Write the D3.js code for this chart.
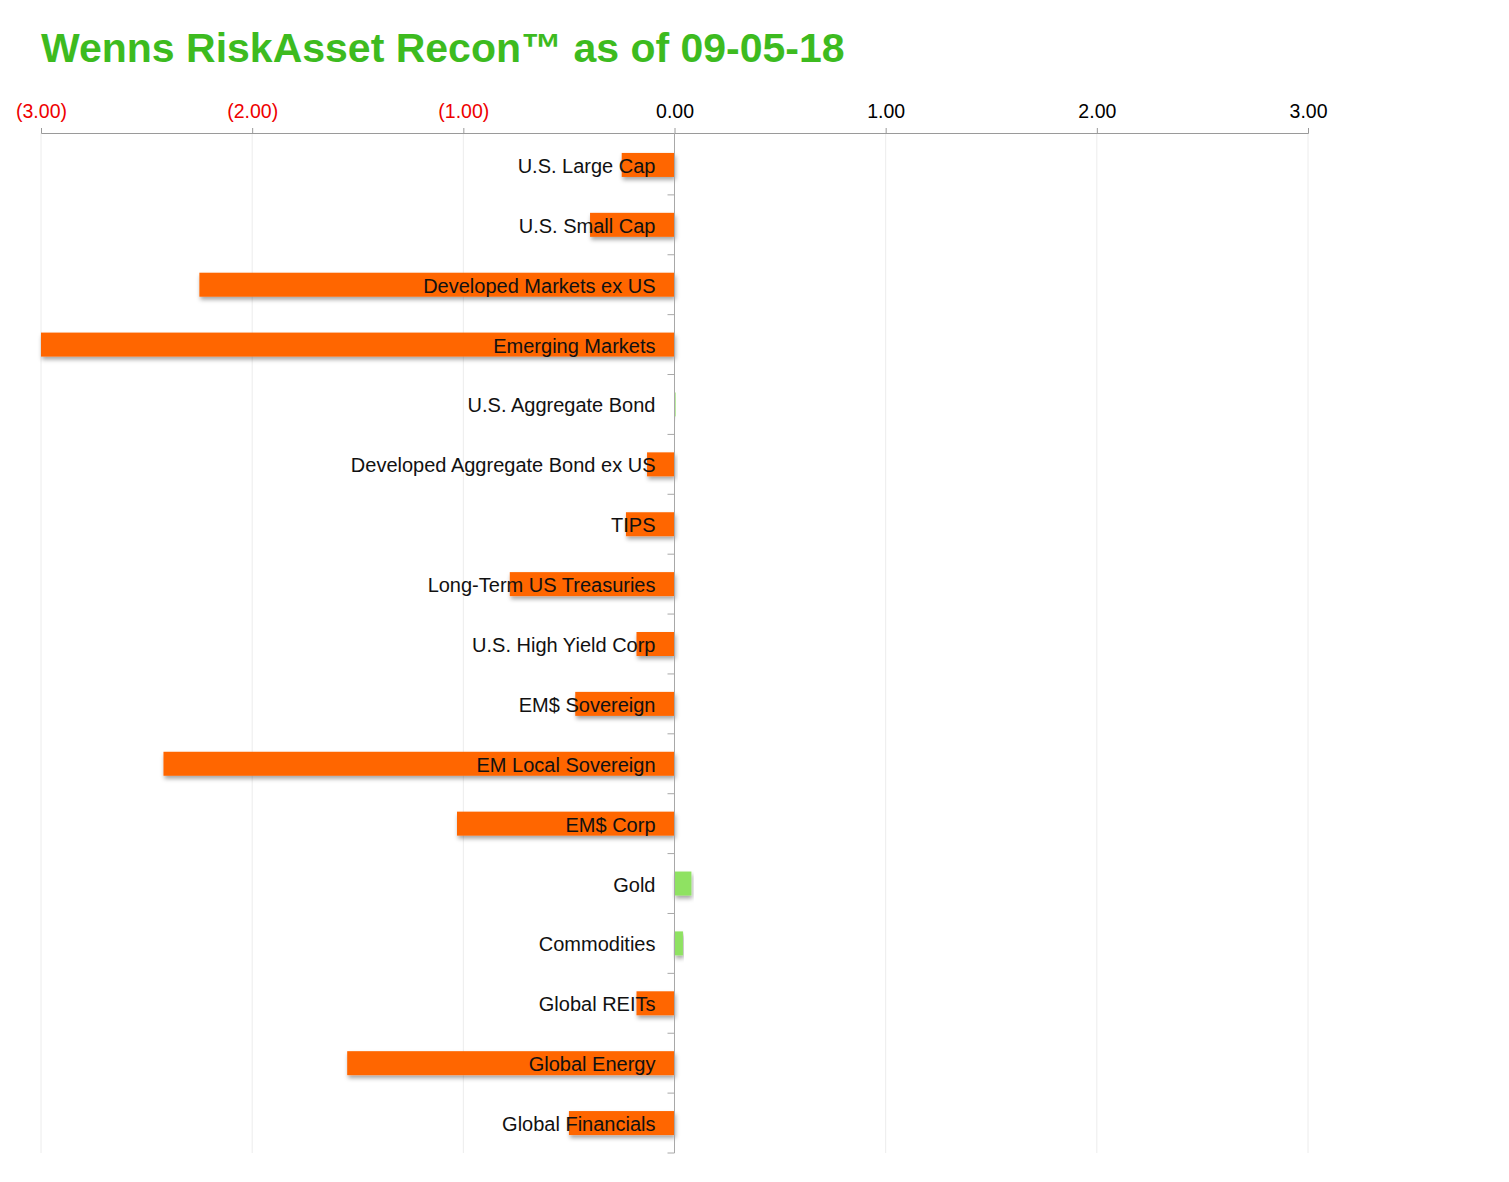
<!DOCTYPE html>
<html>
<head>
<meta charset="utf-8">
<script src="https://cdn.jsdelivr.net/npm/d3@7"></script>
<style>
  body { margin: 0; background: #fff; }
  text { font-family: "Liberation Sans", Helvetica, Arial, sans-serif; }
</style>
</head>
<body>
<svg width="1509" height="1182"></svg>
<script>
const categories = ['U.S. Large Cap', 'U.S. Small Cap', 'Developed Markets ex US', 'Emerging Markets',
    'U.S. Aggregate Bond', 'Developed Aggregate Bond ex US', 'TIPS', 'Long-Term US Treasuries',
    'U.S. High Yield Corp', 'EM$ Sovereign', 'EM Local Sovereign', 'EM$ Corp', 'Gold',
    'Commodities', 'Global REITs', 'Global Energy', 'Global Financials'];
const values = [-0.25, -0.40, -2.25, -3.00, 0.005, -0.13, -0.23, -0.78, -0.18, -0.47,
    -2.42, -1.03, 0.08, 0.04, -0.18, -1.55, -0.50];
const tickValues = [-3, -2, -1, 0, 1, 2, 3];
const title = 'Wenns RiskAsset Recon\u2122 as of 09-05-18';

const svg = d3.select('svg');
const margin = {top: 133, left: 41, right: 201, bottom: 29};
const width = +svg.attr('width');
const height = +svg.attr('height');

const x = d3.scaleLinear().domain([-3, 3]).range([margin.left, width - margin.right]);
const y = d3.scaleBand().domain(categories).range([margin.top + 2, height - margin.bottom]).paddingInner(0);

const defs = svg.append('defs');
defs.append('filter').attr('id', 'shadow')
    .attr('x', '-10%').attr('y', '-30%').attr('width', '120%').attr('height', '180%')
    .append('feDropShadow')
    .attr('dx', 1).attr('dy', 3).attr('stdDeviation', 2)
    .attr('flood-color', '#000').attr('flood-opacity', 0.35);

svg.append('text')
    .attr('x', 41).attr('y', 62)
    .attr('fill', '#3dbb1f')
    .attr('font-size', 41)
    .attr('font-weight', 'bold')
    .text(title);

// grid
svg.append('g').selectAll('line')
    .data(tickValues.filter(d => d !== 0))
    .join('line')
    .attr('x1', d => x(d)).attr('x2', d => x(d))
    .attr('y1', margin.top).attr('y2', height - margin.bottom)
    .attr('stroke', '#ececec');

// top axis
const fmt = d => d < 0 ? '(' + d3.format('.2f')(-d) + ')' : d3.format('.2f')(d);
const axis = svg.append('g')
    .attr('transform', `translate(0,${margin.top})`)
    .call(d3.axisTop(x).tickValues(tickValues).tickFormat(fmt).tickSizeOuter(0).tickSize(5).tickPadding(10));
axis.select('.domain').attr('stroke', '#9a9a9a');
axis.selectAll('.tick line').attr('stroke', '#9a9a9a');
axis.selectAll('.tick text')
    .attr('font-family', '"Liberation Sans", Helvetica, Arial, sans-serif')
    .attr('font-size', 19.5)
    .attr('fill', d => d < 0 ? '#ee0000' : '#000');

// bars
svg.append('g').selectAll('rect')
    .data(categories)
    .join('rect')
    .attr('x', (d, i) => x(Math.min(0, values[i])))
    .attr('width', (d, i) => Math.abs(x(values[i]) - x(0)))
    .attr('y', d => y(d) + (y.bandwidth() - 24) / 2)
    .attr('height', 24)
    .attr('fill', (d, i) => values[i] < 0 ? '#ff6600' : '#8fe262')
    .attr('filter', 'url(#shadow)');

// zero axis
svg.append('line')
    .attr('x1', x(0)).attr('x2', x(0))
    .attr('y1', margin.top).attr('y2', height - margin.bottom)
    .attr('stroke', '#a8a8a8');

// category boundary ticks
svg.append('g').selectAll('line')
    .data(categories)
    .join('line')
    .attr('x1', x(0) - 7).attr('x2', x(0))
    .attr('y1', d => y(d) + y.step())
    .attr('y2', d => y(d) + y.step())
    .attr('stroke', '#a8a8a8');

// labels
svg.append('g').selectAll('text')
    .data(categories)
    .join('text')
    .attr('x', x(0) - 19)
    .attr('y', d => y(d) + y.bandwidth() / 2 + 8)
    .attr('text-anchor', 'end')
    .attr('font-size', 20)
    .attr('fill', '#111')
    .text(d => d);
</script>
</body>
</html>
